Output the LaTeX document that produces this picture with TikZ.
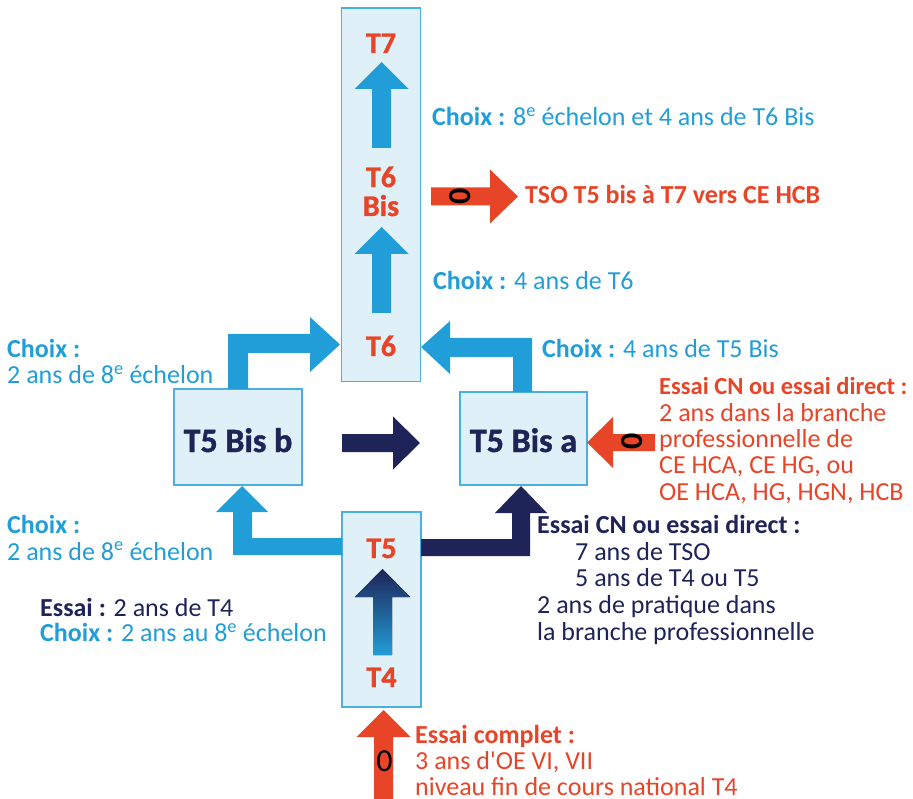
\documentclass[tikz,border=0pt]{standalone}
\usepackage{fontspec}
\setmainfont{Carlito}
\newfontfamily\aposfont{Carlito}
\newfontfamily\lblfont{Carlito}[FakeBold=1.2]
\definecolor{lb}{RGB}{33,157,216}
\definecolor{rd}{RGB}{232,68,39}
\definecolor{nv}{RGB}{31,36,88}
\definecolor{bxf}{RGB}{223,240,249}
\definecolor{bxd}{RGB}{72,176,228}
\newcommand\vArrow[7]{% opts, cx, tip y, head base y, bottom y, half shaft, half head
  \fill[#1] (#2-#7,#4) -- (#2,#3) -- (#2+#7,#4) -- (#2+#6,#4) -- (#2+#6,#5) -- (#2-#6,#5) -- (#2-#6,#4) -- cycle;}
\newcommand\hArrow[7]{% opts, cy, tip x, head base x, tail x, half shaft, half head
  \fill[#1] (#3,#2) -- (#4,#2-#7) -- (#4,#2-#6) -- (#5,#2-#6) -- (#5,#2+#6) -- (#4,#2+#6) -- (#4,#2+#7) -- cycle;}
\tikzset{
  box/.style={draw=bxd, fill=bxf, line width=1.2pt},
  txt/.style={anchor=base west, inner sep=0pt, font=\fontsize{26}{27}\selectfont},
  lbl/.style={anchor=base, inner sep=0pt, text=rd, font=\fontsize{30}{30}\selectfont\lblfont\bfseries},
  big/.style={anchor=base, inner sep=0pt, text=nv, font=\fontsize{34}{34}\selectfont\lblfont\bfseries},
  zero/.style={inner sep=0pt, text=black, font=\fontsize{32}{32}\selectfont},
}
\begin{document}
\begin{tikzpicture}[x=1pt,y=-1pt]
\useasboundingbox (0,0) rectangle (913,799);
% boxes
\path[box] (341.5,8) rectangle (420.5,381.5);
\path[box] (174,389) rectangle (302,485);
\path[box] (460,392) rectangle (587,485);
\path[box] (342,512) rectangle (421,707);
% vertical arrows
\vArrow{lb}{381.5}{62}{89}{148}{9.5}{27}
\vArrow{lb}{381.5}{227}{254}{313}{9.5}{27}
\vArrow{top color=nv,bottom color=lb}{382.5}{569}{597}{655}{9.5}{27.5}
\vArrow{rd}{383.5}{710}{737}{799}{9.5}{27}
% horizontal arrows
\hArrow{rd}{196.5}{518}{490}{431}{9}{27}
\hArrow{nv}{443}{420}{393}{342}{9}{26.5}
\hArrow{rd}{442.5}{587}{613}{655}{8.5}{25.5}
% elbow arrows
\fill[lb] (228,389) -- (228,334) -- (310,334) -- (310,317) -- (340,344.5) -- (310,372) -- (310,353) -- (248,353) -- (248,389) -- cycle;
\fill[lb] (513,392) -- (513,357) -- (450,357) -- (450,374) -- (421,347) -- (450,321) -- (450,338) -- (532,338) -- (532,392) -- cycle;
\fill[lb] (342,538) -- (252,538) -- (252,512) -- (268,512) -- (242,486) -- (216,512) -- (233,512) -- (233,555) -- (342,555) -- cycle;
\fill[nv] (421,539) -- (512,539) -- (512,513) -- (495,513) -- (521,486) -- (547,513) -- (530,513) -- (530,556) -- (421,556) -- cycle;
% zeros
\node[zero,font=\fontsize{32}{32}\selectfont\bfseries,rotate=90] (z1) at (460,196.5) {0};
\node[zero,font=\fontsize{32}{32}\selectfont\bfseries,rotate=90] (z2) at (632.5,441.5) {0};
\node[zero] (z3) at (384.5,761.5) {0};
% box labels
\node[lbl] (t7) at (381,53) {T7};
\node[lbl] (t6b1) at (381,187) {T6};
\node[lbl] (t6b2) at (381,216) {Bis};
\node[lbl] (t6) at (381,356) {T6};
\node[lbl] (t5) at (381.5,558) {T5};
\node[lbl] (t4) at (381.5,687) {T4};
\node[big] (bisb) at (238,452) {T5 Bis b};
\node[big] (bisa) at (523.5,452) {T5 Bis a};
% texts
\node[txt,text=lb] (c1) at (432,126) {\textbf{Choix :} 8\textsuperscript{e} échelon et 4 ans de T6 Bis};
\node[txt,text=rd] (tso) at (525,204) {\textbf{TSO T5 bis à T7 vers CE HCB}};
\node[txt,text=lb] (c2) at (433,290) {\textbf{Choix :} 4 ans de T6};
\node[txt,text=lb] (c3) at (542,358) {\textbf{Choix :} 4 ans de T5 Bis};
\node[txt,text=rd,font=\fontsize{24.5}{26}\selectfont\bfseries] (r1) at (659,395) {Essai CN ou essai direct :};
\node[txt,text=rd] (r2) at (659,421.5) {2 ans dans la branche};
\node[txt,text=rd] (r3) at (659,447.5) {professionnelle de};
\node[txt,text=rd] (r4) at (659,473.5) {CE HCA, CE HG, ou};
\node[txt,text=rd] (r5) at (659,500) {OE HCA, HG, HGN, HCB};
\node[txt,text=nv] (n1) at (537,533) {\textbf{Essai CN ou essai direct :}};
\node[txt,text=nv] (n2) at (575,560) {7 ans de TSO};
\node[txt,text=nv] (n3) at (575,586.5) {5 ans de T4 ou T5};
\node[txt,text=nv] (n4) at (537,613) {2 ans de pratique dans};
\node[txt,text=nv] (n5) at (537,640) {la branche professionnelle};
\node[txt,text=rd] (e1) at (415,743) {\textbf{Essai complet :}};
\node[txt,text=rd] (e2) at (415,769.5) {3 ans d{\aposfont'}OE VI, VII};
\node[txt,text=rd] (e3) at (415,795) {niveau fin de cours national T4};
\node[txt,text=lb] (l1) at (7,358) {\textbf{Choix :}};
\node[txt,text=lb] (l2) at (7,384) {2 ans de 8\textsuperscript{e} échelon};
\node[txt,text=lb] (l3) at (7,533) {\textbf{Choix :}};
\node[txt,text=lb] (l4) at (7,560) {2 ans de 8\textsuperscript{e} échelon};
\node[txt,text=nv] (l5) at (40,616.5) {\textbf{Essai :} 2 ans de T4};
\node[txt,text=lb] (l6) at (40,641.5) {\textbf{Choix :} 2 ans au 8\textsuperscript{e} échelon};
\end{tikzpicture}
\end{document}
